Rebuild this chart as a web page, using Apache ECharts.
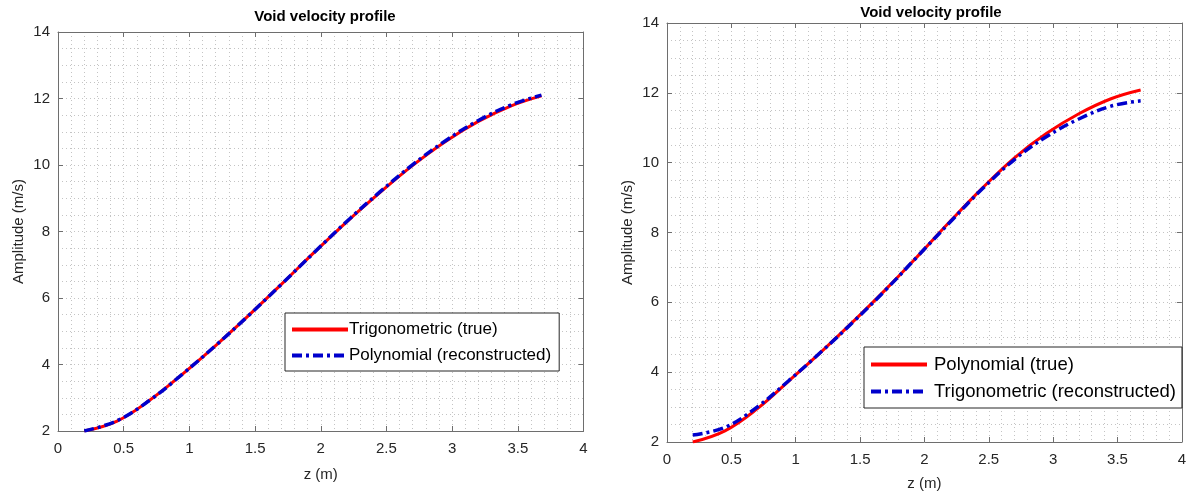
<!DOCTYPE html>
<html>
<head>
<meta charset="utf-8">
<script src="https://cdn.jsdelivr.net/npm/echarts@6/dist/echarts.min.js"></script>
<style>html,body{margin:0;padding:0;background:#fff}#c{width:1189px;height:496px}</style>
</head>
<body>
<div id="c"></div>
<script>
// ---- data ----
const zValues = [0.2, 0.45, 0.7, 0.95, 1.2, 1.45, 1.7, 1.95, 2.2, 2.45, 2.7, 2.95, 3.2, 3.45, 3.68];
const leftTrue = [2.0, 2.3, 2.93, 3.72, 4.57, 5.47, 6.41, 7.37, 8.3, 9.17, 9.99, 10.71, 11.31, 11.78, 12.08];
const leftRecon = [2.0, 2.31, 2.93, 3.72, 4.57, 5.47, 6.41, 7.37, 8.31, 9.19, 10.01, 10.73, 11.34, 11.81, 12.1];
const rightTrue = [2.0, 2.32, 2.95, 3.76, 4.59, 5.46, 6.37, 7.33, 8.32, 9.27, 10.14, 10.84, 11.4, 11.83, 12.08];
const rightRecon = [2.2, 2.42, 3.0, 3.77, 4.59, 5.45, 6.36, 7.33, 8.3, 9.25, 10.09, 10.75, 11.25, 11.62, 11.77];
const leftNames = ['Trigonometric (true)', 'Polynomial (reconstructed)'];
const rightNames = ['Polynomial (true)', 'Trigonometric (reconstructed)'];
const titleText = 'Void velocity profile';
const xName = 'z (m)';
const yName = 'Amplitude (m/s)';

const FONT = '"Liberation Sans", Arial, sans-serif';
const AX = '#6e6e6e';
const GRIDC = '#c4c4c4';
const pairs = v => zValues.map((z, i) => [z, v[i]]);

function xAxes(g, gap) {
  return [{
    type: 'value', gridIndex: g, min: 0, max: 4, interval: 0.5, position: 'bottom',
    name: xName, nameLocation: 'middle', nameGap: gap,
    nameTextStyle: {fontFamily: FONT, fontSize: 15, color: '#262626'},
    axisLine: {show: true, onZero: false, lineStyle: {color: AX, width: 1}},
    axisTick: {show: true, inside: true, length: 5, lineStyle: {color: AX}},
    axisLabel: {fontFamily: FONT, fontSize: 15, color: '#262626', margin: 10},
    splitLine: {show: true, lineStyle: {color: GRIDC, type: [1, 3], width: 1}},
    minorTick: {show: false, splitNumber: 5},
    minorSplitLine: {show: true, lineStyle: {color: GRIDC, type: [1, 3], width: 1}}
  }, {
    type: 'value', gridIndex: g, min: 0, max: 4, interval: 0.5, position: 'top',
    axisLine: {show: true, onZero: false, lineStyle: {color: AX, width: 1}},
    axisTick: {show: true, inside: true, length: 5, lineStyle: {color: AX}},
    axisLabel: {show: false}, splitLine: {show: false}
  }];
}
function yAxes(g, gap) {
  return [{
    type: 'value', gridIndex: g, min: 2, max: 14, interval: 2, position: 'left',
    name: yName, nameLocation: 'middle', nameGap: gap, nameRotate: 90,
    nameTextStyle: {fontFamily: FONT, fontSize: 15, color: '#262626'},
    axisLine: {show: true, onZero: false, lineStyle: {color: AX, width: 1}},
    axisTick: {show: true, inside: true, length: 5, lineStyle: {color: AX}},
    axisLabel: {fontFamily: FONT, fontSize: 15, color: '#262626', margin: 8},
    splitLine: {show: true, lineStyle: {color: GRIDC, type: [1, 3], width: 1}},
    minorTick: {show: false, splitNumber: 4},
    minorSplitLine: {show: true, lineStyle: {color: GRIDC, type: [1, 3], width: 1}}
  }, {
    type: 'value', gridIndex: g, min: 2, max: 14, interval: 2, position: 'right',
    axisLine: {show: true, onZero: false, lineStyle: {color: AX, width: 1}},
    axisTick: {show: true, inside: true, length: 5, lineStyle: {color: AX}},
    axisLabel: {show: false}, splitLine: {show: false}
  }];
}
function lineSeries(name, data, xi, yi, dash) {
  return {
    type: 'line', name: name, xAxisIndex: xi, yAxisIndex: yi,
    data: data, smooth: 0.4, showSymbol: false, symbol: 'none',
    lineStyle: dash ? {color: '#0000cc', width: 3.5, type: [10, 4, 3, 4]} : {color: '#ff0000', width: 3},
    itemStyle: {color: dash ? '#0000cc' : '#ff0000'},
    animation: false, z: dash ? 3 : 2
  };
}
const legendBase = {
  orient: 'vertical', backgroundColor: '#fff', borderColor: '#262626', borderWidth: 1,
  itemWidth: 56, itemHeight: 14, itemGap: 9, padding: [8, 8, 7, 5],
  itemStyle: {opacity: 0, borderWidth: 0},
  lineStyle: {width: 4},
  textStyle: {fontFamily: FONT, fontSize: 17, color: '#000', padding: [0, 0, 0, -4]}
};

const chart = echarts.init(document.getElementById('c'), null, {renderer: 'canvas'});
chart.setOption({
  backgroundColor: '#fff',
  animation: false,
  title: [
    {text: titleText, left: 320, top: 4, textAlign: 'center', textStyle: {fontFamily: FONT, fontSize: 15, fontWeight: 'bold', color: '#000'}},
    {text: titleText, left: 926, top: 0, textAlign: 'center', textStyle: {fontFamily: FONT, fontSize: 15, fontWeight: 'bold', color: '#000'}}
  ],
  grid: [
    {left: 58, right: 1189 - 583.5, top: 32, bottom: 496 - 431, containLabel: false},
    {left: 667, right: 2.5, top: 23, bottom: 496 - 443, containLabel: false}
  ],
  xAxis: [...xAxes(0, 36), ...xAxes(1, 34)],
  yAxis: [...yAxes(0, 32), ...yAxes(1, 32)],
  legend: [
    Object.assign({}, legendBase, {left: 285, top: 313, data: leftNames}),
    Object.assign({}, legendBase, {left: 864, top: 347, data: rightNames, itemGap: 8, padding: [8, 6, 7, 5],
      textStyle: {fontFamily: FONT, fontSize: 18.5, color: '#000', padding: [0, 0, 0, 2]}})
  ],
  series: [
    lineSeries(leftNames[0], pairs(leftTrue), 0, 0, false),
    lineSeries(leftNames[1], pairs(leftRecon), 0, 0, true),
    lineSeries(rightNames[0], pairs(rightTrue), 2, 2, false),
    lineSeries(rightNames[1], pairs(rightRecon), 2, 2, true)
  ]
});
</script>
</body>
</html>
